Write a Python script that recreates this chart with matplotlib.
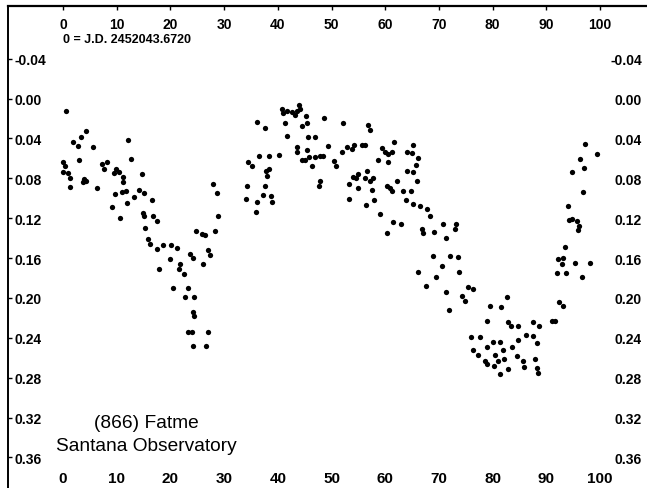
import numpy as np
import matplotlib.pyplot as plt

phase = [0.6, 0.0, 0.4, 0.0, 0.9, 1.3, 1.3, 1.9, 2.8, 3.4, 4.3, 5.6, 3.0, 3.7, 4.3, 3.9, 6.3,
         7.3, 7.6, 8.2, 9.9, 10.4, 9.5, 11.2, 11.2, 12.1, 12.7, 14.7, 9.7, 11.0, 11.7, 11.9,
         9.1, 10.6, 13.2, 14.2, 15.1, 16.6, 14.9, 15.1, 16.8, 17.5, 15.3, 15.8, 16.2, 17.5,
         18.6, 20.1, 21.2, 17.9, 19.9, 21.8, 21.6, 22.5, 23.7, 24.2, 20.5, 23.3, 22.7, 24.4,
         24.2, 24.4, 23.3, 24.0, 27.0, 24.2, 26.6, 27.9, 28.7, 28.9, 24.8, 25.9, 26.4, 28.3,
         27.0, 27.4, 26.1,
         34.1, 34.3, 34.4, 35.2, 35.9, 36.1, 37.2, 37.6, 37.8, 38.4, 38.0, 36.5, 38.7, 38.9,
         38.4, 40.2, 36.1, 37.6, 41.3, 41.7, 40.8, 41.0, 41.7, 42.6, 43.2, 43.6, 44.0, 44.1,
         45.3, 44.5, 45.4, 48.6, 52.1, 45.6, 46.9, 43.6, 43.6, 45.4, 49.4, 52.0, 52.9, 44.5,
         45.1, 45.8, 46.9, 47.9, 48.4, 46.4, 50.5, 50.8, 47.9, 47.7, 53.3, 53.3, 56.8, 57.2,
         53.8, 54.2, 55.7, 56.2, 59.4, 60.0, 60.5, 61.3, 61.6, 58.7, 60.5, 64.1, 65.0, 65.2,
         66.1, 65.7, 54.0, 54.6, 54.9, 56.2, 56.6, 57.2, 57.7, 54.9, 57.5, 60.3, 60.9, 61.3,
         62.2, 63.3, 64.8, 64.1, 65.2, 65.9, 56.4, 57.9, 59.0, 63.9, 65.2, 66.5, 67.8, 68.3,
         61.5, 62.9, 60.3, 66.9, 67.0, 69.1, 70.8, 71.3, 73.2, 73.0,
         68.9, 72.1, 73.6, 70.6, 73.7, 66.1, 69.5, 67.6, 71.3, 75.4, 76.4, 74.3, 74.9, 71.9,
         79.5, 81.6, 82.7, 79.0, 82.9, 84.7, 87.5, 88.6, 91.1, 91.6, 83.4, 76.0, 77.7, 79.0,
         80.1, 81.4, 76.4, 77.3, 80.5, 81.9, 83.6, 84.7, 86.2, 87.5, 88.3, 78.6, 79.0, 80.3,
         81.0, 82.1, 81.4, 82.9, 84.5, 85.7, 85.9, 87.9, 88.3, 88.5,
         92.2, 92.0, 92.4, 93.1, 97.2, 99.4, 96.3, 97.0, 94.8, 96.8, 94.0, 94.2, 94.8, 95.7,
         96.1, 95.9, 93.5, 93.1, 95.4, 98.1, 92.9, 93.7, 96.7]

mag = [0.013, 0.064, 0.068, 0.074, 0.075, 0.080, 0.089, 0.044, 0.048, 0.039, 0.033, 0.049,
       0.062, 0.084, 0.083, 0.081, 0.090, 0.066, 0.071, 0.064, 0.071, 0.074, 0.075, 0.079,
       0.084, 0.042, 0.061, 0.076, 0.096, 0.094, 0.093, 0.105, 0.109, 0.120, 0.099, 0.092,
       0.095, 0.102, 0.115, 0.118, 0.118, 0.123, 0.130, 0.141, 0.146, 0.151, 0.147, 0.147,
       0.150, 0.171, 0.161, 0.166, 0.171, 0.176, 0.156, 0.160, 0.190, 0.190, 0.199, 0.199,
       0.214, 0.218, 0.234, 0.234, 0.234, 0.248, 0.248, 0.086, 0.095, 0.118, 0.133, 0.136,
       0.137, 0.133, 0.152, 0.157, 0.166,
       0.101, 0.088, 0.064, 0.068, 0.114, 0.104, 0.097, 0.088, 0.073, 0.071, 0.078, 0.058,
       0.098, 0.104, 0.058, 0.057, 0.024, 0.030, 0.025, 0.038, 0.011, 0.015, 0.013, 0.014,
       0.017, 0.013, 0.007, 0.011, 0.018, 0.028, 0.025, 0.020, 0.025, 0.039, 0.039, 0.049,
       0.054, 0.052, 0.048, 0.054, 0.049, 0.062, 0.062, 0.059, 0.059, 0.058, 0.058, 0.068,
       0.063, 0.068, 0.083, 0.088, 0.086, 0.101, 0.027, 0.032,
       0.051, 0.047, 0.047, 0.047, 0.050, 0.054, 0.056, 0.054, 0.044, 0.062, 0.064, 0.054,
       0.055, 0.047, 0.060, 0.067, 0.079, 0.080, 0.076, 0.080, 0.073, 0.083, 0.080, 0.090,
       0.092, 0.088, 0.090, 0.093, 0.083, 0.093, 0.093, 0.073, 0.074, 0.083, 0.107, 0.102,
       0.116, 0.102, 0.106, 0.108, 0.111, 0.118, 0.124, 0.126, 0.135, 0.131, 0.135, 0.134,
       0.126, 0.140, 0.126, 0.131,
       0.158, 0.158, 0.159, 0.168, 0.174, 0.174, 0.179, 0.188, 0.194, 0.189, 0.191, 0.198,
       0.203, 0.212, 0.208, 0.209, 0.199, 0.223, 0.224, 0.228, 0.224, 0.228, 0.223, 0.223,
       0.228, 0.239, 0.239, 0.249, 0.244, 0.244, 0.252, 0.257, 0.257, 0.252, 0.249, 0.242,
       0.237, 0.238, 0.245, 0.263, 0.266, 0.268, 0.263, 0.261, 0.276, 0.271, 0.258, 0.263,
       0.269, 0.261, 0.270, 0.275,
       0.161, 0.175, 0.204, 0.208, 0.046, 0.056, 0.061, 0.070, 0.074, 0.094, 0.108, 0.122,
       0.121, 0.123, 0.128, 0.132, 0.149, 0.160, 0.165, 0.165, 0.166, 0.175, 0.179]

phase_ticks = [0, 10, 20, 30, 40, 50, 60, 70, 80, 90, 100]
mag_ticks = [-0.04, 0.00, 0.04, 0.08, 0.12, 0.16, 0.20, 0.24, 0.28, 0.32, 0.36]
mag_labels = ['-0.04', '0.00', '0.04', '0.08', '0.12', '0.16', '0.20', '0.24', '0.28', '0.32', '0.36']

epoch_text = '0 = J.D. 2452043.6720'
title_lines = ['(866) Fatme', 'Santana Observatory']

fig = plt.figure(figsize=(6.47, 4.89), dpi=100)
# frame runs from the top line down past the bottom edge, right side cut off
ax = fig.add_axes([8 / 647, -8 / 489, 641 / 647, 490 / 489])

ax.plot(phase, mag, 'o', color='black', ms=3.8, mew=0)

ax.set_xlim(-10.24, 109.12)
ax.set_ylim(0.3987, -0.0928)
ax.set_xticks(phase_ticks)
ax.set_yticks(mag_ticks)
ax.set_yticklabels(mag_labels)

ax.spines['bottom'].set_visible(False)
ax.spines['right'].set_visible(False)
ax.spines['left'].set_linewidth(1.4)
ax.spines['top'].set_linewidth(1.6)

ax.tick_params(axis='x', bottom=False, top=True, labelbottom=True, labeltop=True,
               direction='in', length=3, width=1, pad=-18.2)
ax.tick_params(axis='y', left=True, right=False, labelleft=True, labelright=True,
               direction='in', length=3, width=1, pad=-5)

for t in ax.xaxis.get_major_ticks():
    t.label1.set_fontfamily('Liberation Sans')
    t.label1.set_fontsize(11)
    t.label1.set_fontweight('bold')
    t.label2.set_fontfamily('Liberation Sans')
    t.label2.set_fontsize(10)
    t.label2.set_fontweight('bold')

for t in ax.yaxis.get_major_ticks():
    for lab in (t.label1, t.label2):
        lab.set_fontfamily('Liberation Sans')
        lab.set_fontsize(10)
        lab.set_fontweight('bold')
    t.label1.set_horizontalalignment('left')
    t.label2.set_horizontalalignment('right')

ax.text(0, -0.0597, epoch_text, ha='left', va='center', fontsize=9,
        fontweight='bold', family='Liberation Sans')
ax.text(15.6, 0.3245, title_lines[0], ha='center', va='center', fontsize=13.8,
        family='Liberation Sans')
ax.text(15.6, 0.3485, title_lines[1], ha='center', va='center', fontsize=13.8,
        family='Liberation Sans')

plt.savefig('out.png', dpi=100)
